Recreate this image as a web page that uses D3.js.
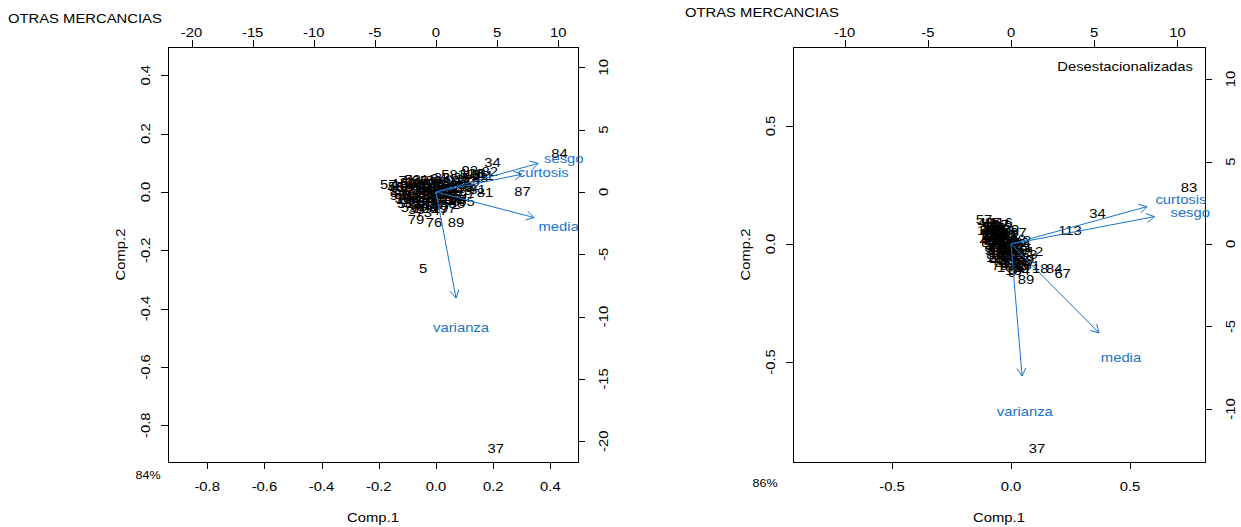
<!DOCTYPE html>
<html><head><meta charset="utf-8">
<script src="https://cdn.jsdelivr.net/npm/d3@7"></script>
<style>body{margin:0;background:#fff} text{font-family:"Liberation Sans",Arial,Helvetica,sans-serif;}</style>
</head><body><svg id="c" width="1241" height="527"></svg>
<script>
// ---------- DATA ----------
const obsLabels = d3.range(1, 117).map(String);
const varNames = ["media", "varianza", "sesgo", "curtosis"];

// Panel A (original series) - scores
const pc1A = [-2.1,-1.5,-0.8,0.4,-1.06,-2.6,-1.2,0.9,-0.3,-2.9,1.6,-1.8,0.2,-0.6,-2.1,3.4,-1.0,-2.4,0.7,-0.2,
 -1.4,1.2,-3.0,-0.5,2.1,-1.7,0.1,-0.9,1.8,-2.3,3.4,-0.4,0.5,4.62,-1.3,-2.7,4.89,0.0,-1.6,1.0,
 -0.7,2.6,-2.0,-0.1,1.4,-3.3,0.3,-1.1,2.3,-0.6,-2.5,0.8,-1.9,1.9,-3.26,-0.3,-3.9,1.1,-2.2,0.6,
 -1.4,2.9,-0.9,0.2,2.5,-2.8,-0.4,1.5,-1.6,0.1,-2.4,1.3,-1.0,3.0,-0.2,-0.16,0.4,-1.2,-1.63,2.0,
 4.0,4.4,3.6,10.1,-0.8,1.7,7.07,-2.0,1.63,0.9,-1.7,2.77,-0.5,1.2,-3.1,0.0,0.98,-1.3,2.4,-0.7,
 0.6,-2.6,1.6,-1.5,0.3,-0.9,2.2,-1.8,0.8,-0.3,3.8,-1.1,2.7,-2.3,1.4,2.93];
const pc2A = [-0.3,0.2,-0.6,0.5,-6.13,0.3,-1.1,0.8,0.1,0.5,1.0,-0.9,-0.4,0.6,-0.8,1.5,0.3,-0.2,-0.2,0.9,
 -0.4,0.3,0.1,-1.3,1.2,0.6,-1.0,0.0,0.6,0.8,0.2,-0.3,1.2,2.36,0.9,-0.5,-20.56,0.4,-1.4,-0.7,
 1.0,0.9,0.2,-0.7,-0.3,0.4,-1.5,-0.3,0.1,0.3,-0.9,0.0,1.0,-0.5,0.48,-1.1,0.65,1.4,-1.2,0.7,
 0.5,0.5,-0.8,1.1,-0.78,-0.2,0.7,0.4,-0.1,-0.2,0.9,-1.0,-1.6,1.0,-0.5,-2.4,-1.2,0.1,-2.18,0.8,
 -0.03,1.64,1.2,3.06,0.4,-0.9,0.03,-0.5,-2.47,0.2,-0.7,1.77,-0.9,-0.1,-0.3,0.8,-1.29,-0.9,0.4,-0.1,
 -0.5,0.7,0.9,0.8,0.2,-1.3,-0.2,0.4,0.5,-0.2,1.3,0.7,1.4,-0.6,-0.6,1.53];
// Panel A loadings
const ld1A = [0.429, 0.0875, 0.447, 0.375];
const ld2A = [-0.11, -0.455, 0.1225, 0.076];

// Panel B (desestacionalizadas) - scores
const pc1B = [-0.9,0.96,-0.5,-1.1,0.3,-0.7,-1.2,0.1,-0.4,-1.0,0.5,1.44,-0.8,-0.2,-1.3,0.2,-0.6,1.75,-1.0,-0.3,
 -1.4,0.0,-0.7,0.7,-1.1,-0.2,-0.9,0.4,-1.2,-0.5,0.8,-0.8,-0.1,5.2,-1.3,-0.6,1.56,0.2,-1.0,-0.4,
 -1.2,0.6,-0.8,-0.1,-1.4,0.3,-0.7,-1.5,0.9,-0.3,-0.9,0.1,-1.1,-0.5,-1.26,-1.0,-1.62,0.4,-0.6,-1.3,
 0.0,-0.8,1.1,-0.4,-1.1,-0.2,3.1,-0.7,0.5,-1.2,-0.3,0.7,-0.9,-0.1,-1.4,-0.66,0.2,-0.8,0.6,-0.5,
 -1.0,0.3,10.7,2.6,-0.6,0.8,-1.3,-0.2,0.9,-0.9,0.1,-0.4,-1.1,0.5,-0.7,-0.2,0.3,-1.2,0.0,-0.6,
 1.0,-0.9,-0.3,0.4,-1.0,-0.5,0.2,-1.3,-0.1,-0.8,0.6,-0.4,3.54,-1.0,0.1,-0.6];
const pc2B = [0.3,0.24,-0.4,0.8,-1.0,0.9,-0.2,0.2,0.6,1.1,-0.6,-0.47,-0.5,0.1,0.4,-0.3,1.2,-1.45,-0.1,-0.9,
 0.9,0.5,0.0,-1.2,1.3,-0.3,-0.8,0.3,0.6,0.3,-0.2,0.6,-1.2,1.88,1.0,-0.7,-12.36,-0.6,0.2,-0.1,
 1.2,0.1,-1.0,0.4,0.2,-1.4,0.5,1.3,-0.9,0.8,-0.3,-0.1,0.0,-1.1,1.09,0.7,1.5,-0.8,0.1,0.7,
 -0.5,1.0,-0.6,-0.5,0.5,0.6,-1.8,-0.2,-0.3,0.9,-0.7,-0.5,0.4,-0.8,0.6,-1.27,0.0,0.1,-1.5,0.9,
 -0.6,-0.2,3.45,-1.45,0.4,-1.0,0.1,-1.0,-2.12,0.8,-0.4,1.0,-0.4,-1.1,0.7,-0.2,-1.7,0.3,0.9,-0.4,
 -1.3,1.2,0.2,-1.6,0.9,-0.2,0.7,0.8,-1.4,-0.8,-0.1,0.5,0.85,0.5,-1.1,1.3];
// Panel B loadings
const ld1B = [0.462, 0.058, 0.753, 0.714];
const ld2B = [-0.471, -0.699, 0.145, 0.198];

const ticksLdA = [-0.8,-0.6,-0.4,-0.2,0.0,0.2,0.4];
const ticksScA = [-20,-15,-10,-5,0,5,10];
const ticksLdB = [-0.5,0.0,0.5];
const ticksScB = [-10,-5,0,5,10];

// ---------- LAYOUT ----------
const SX = 1.14;
const BLUE = "#1874CD";
const svg = d3.select("#c");

function txt(g, x, y, s, o) {
  o = o || {};
  return g.append("text")
    .attr("transform", `translate(${x},${y}) rotate(${o.rot||0}) scale(${SX},1)`)
    .attr("text-anchor", o.anchor || "middle")
    .attr("dominant-baseline", o.base || "central")
    .attr("font-size", o.size || 13)
    .attr("fill", o.fill || "#000")
    .text(s);
}

function panel(cfg) {
  const g = svg.append("g");
  const b = cfg.box;
  const lx = d3.scaleLinear().domain(cfg.ldX).range([b.l, b.r]);
  const ly = d3.scaleLinear().domain(cfg.ldY).range([b.b, b.t]);
  const sx = d3.scaleLinear().domain(cfg.ldX.map(v => v * cfg.ratio)).range([b.l, b.r]);
  const sy = d3.scaleLinear().domain(cfg.ldY.map(v => v * cfg.ratio)).range([b.b, b.t]);

  // points (labels)
  cfg.pc1.forEach((v, i) => txt(g, sx(v), sy(cfg.pc2[i]), obsLabels[i]));

  // box
  g.append("rect").attr("x", b.l + 0.5).attr("y", b.t + 0.5)
    .attr("width", b.r - b.l).attr("height", b.b - b.t)
    .attr("fill", "none").attr("stroke", "#000").attr("stroke-width", 1);

  // axes
  const TL = 7;
  const ax = (axis, tr) => g.append("g").attr("transform", tr)
      .call(axis.tickSize(TL).tickFormat(""))
      .call(s => s.select(".domain").remove())
      .call(s => s.selectAll("line").attr("stroke", "#000").attr("shape-rendering", "crispEdges"));
  ax(d3.axisBottom(lx).tickValues(cfg.ticksLd), `translate(0,${b.b})`);
  ax(d3.axisLeft(ly).tickValues(cfg.ticksLd), `translate(${b.l},0)`);
  ax(d3.axisTop(sx).tickValues(cfg.ticksSc), `translate(0,${b.t})`);
  ax(d3.axisRight(sy).tickValues(cfg.ticksSc), `translate(${b.r},0)`);

  cfg.ticksLd.forEach(v => txt(g, lx(v), b.b + 24, v.toFixed(1)));
  cfg.ticksLd.forEach(v => txt(g, b.l - 23, ly(v), v.toFixed(1), {rot: -90}));
  cfg.ticksSc.forEach(v => txt(g, sx(v), b.t - 15, String(v)));
  cfg.ticksSc.forEach(v => txt(g, b.r + 25, sy(v), String(v), {rot: -90}));

  // arrows
  const ag = g.append("g").attr("stroke", BLUE).attr("fill", "none").attr("stroke-width", 1);
  cfg.ld1.forEach((v, i) => {
    const x0 = lx(0), y0 = ly(0);
    const x1 = lx(v * 0.8), y1 = ly(cfg.ld2[i] * 0.8);
    ag.append("line").attr("x1", x0).attr("y1", y0).attr("x2", x1).attr("y2", y1);
    const a = Math.atan2(y1 - y0, x1 - x0), L = 9, sp = Math.PI / 6;
    ag.append("path").attr("d",
      `M${x1 - L*Math.cos(a - sp)},${y1 - L*Math.sin(a - sp)}L${x1},${y1}L${x1 - L*Math.cos(a + sp)},${y1 - L*Math.sin(a + sp)}`);
    txt(g, lx(v), ly(cfg.ld2[i]) + 2.5, varNames[i], {fill: BLUE});
  });

  // axis titles
  txt(g, (b.l + b.r) / 2, 517, "Comp.1");
  txt(g, b.l - 48, (b.t + b.b) / 2, "Comp.2", {rot: -90});
  txt(g, cfg.title[0], cfg.title[1], "OTRAS MERCANCIAS", {anchor: "start"});
  txt(g, cfg.pct[0], cfg.pct[1], cfg.pct[2], {size: 11});
  if (cfg.note) txt(g, b.r - 12, 66, cfg.note, {anchor: "end"});
}

panel({
  box: {l: 168, r: 578, t: 47, b: 462},
  ldX: [-0.937, 0.4965], ldY: [-0.926, 0.497], ratio: 23.4,
  pc1: pc1A, pc2: pc2A, ld1: ld1A, ld2: ld2A,
  ticksLd: ticksLdA, ticksSc: ticksScA,
  title: [8, 18], pct: [148, 475, "84%"]
});
panel({
  box: {l: 793, r: 1205, t: 47, b: 462},
  ldX: [-0.916, 0.815], ldY: [-0.924, 0.835], ratio: 14.3,
  pc1: pc1B, pc2: pc2B, ld1: ld1B, ld2: ld2B,
  ticksLd: ticksLdB, ticksSc: ticksScB,
  title: [685, 12], pct: [765, 483, "86%"], note: "Desestacionalizadas"
});
</script></body></html>
